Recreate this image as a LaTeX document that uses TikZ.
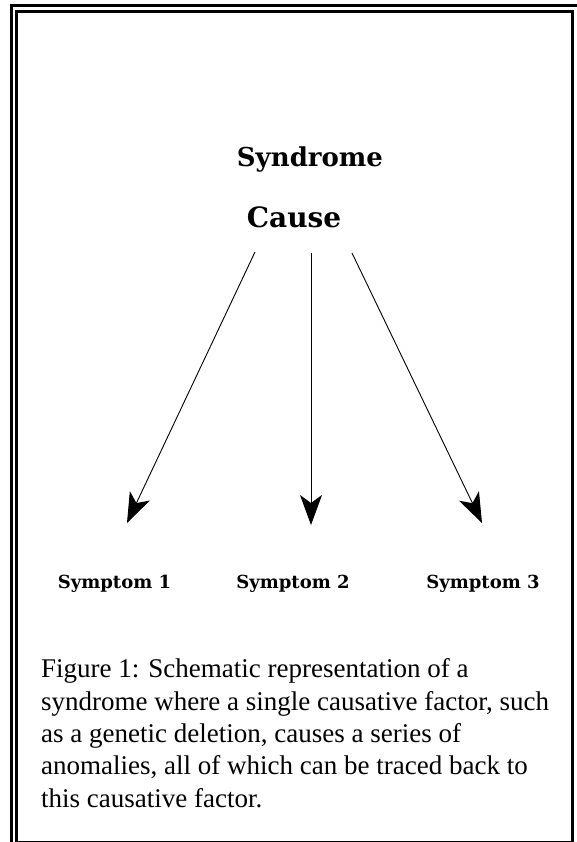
\documentclass[tikz,border=0pt]{standalone}
\usepackage{fontspec}
\setmainfont{Liberation Serif}
\newfontfamily\labelfont{DejaVu Serif}
\usetikzlibrary{positioning,arrows.meta}

\begin{document}
\begin{tikzpicture}[
			x=1pt, y=-1pt,
			heading/.style={
				font=\labelfont\bfseries\fontsize{26}{30}\selectfont,
				inner sep=0pt,
				anchor=base
			},
			causelabel/.style={
				font=\labelfont\bfseries\fontsize{28}{32}\selectfont,
				inner sep=0pt,
				anchor=base
			},
			symptom/.style={
				font=\labelfont\bfseries\fontsize{18}{22}\selectfont,
				inner sep=0pt,
				anchor=base
			},
			caption/.style={
				font=\fontsize{27}{32.3}\selectfont,
				align=left,
				inner sep=0pt,
				anchor=base west
			},
			frame/.style={
				line width=3pt
			},
			arrow/.style={
				-{Stealth[length=30pt,width=22pt,inset=8pt]},
				line width=0.9pt
			}
			]
			\useasboundingbox (0,0) rectangle (577,842);
			\clip (0,0) rectangle (577,842);
			
			% Frame
			\draw[frame] (11.5,5.5) rectangle (600,870);
			\draw[frame] (16.3,11.5) rectangle (572.5,842.6);
			
			% Nodes
			\node[heading] (syndrome) at (310,167) {Syndrome};
			\node[causelabel] (cause) at (294,228) {Cause};
			\node[symptom] (sym1) at (114.5,588.5) {Symptom 1};
			\node[symptom] (sym2) at (293,588.5) {Symptom 2};
			\node[symptom] (sym3) at (483,588.5) {Symptom 3};
			% caption: base anchor sits on the last line
			\node[caption] (figcap) at (41,807) {Figure 1: Schematic representation of a\\
				syndrome where a single causative factor, such\\
				as a genetic deletion, causes a series of\\
				anomalies, all of which can be traced back to\\
				this causative factor.};
			
			% Arrow ends
			\coordinate (from1) at (255,252);
			\coordinate (from2) at (311,253);
			\coordinate (from3) at (352,253);
			\coordinate (to1) at (127,523);
			\coordinate (to2) at (311,525);
			\coordinate (to3) at (482,523);
			
			% Arrows
			\draw[arrow] (from1) -- (to1);
			\draw[arrow] (from2) -- (to2);
			\draw[arrow] (from3) -- (to3);
			
		\end{tikzpicture}
\end{document}
